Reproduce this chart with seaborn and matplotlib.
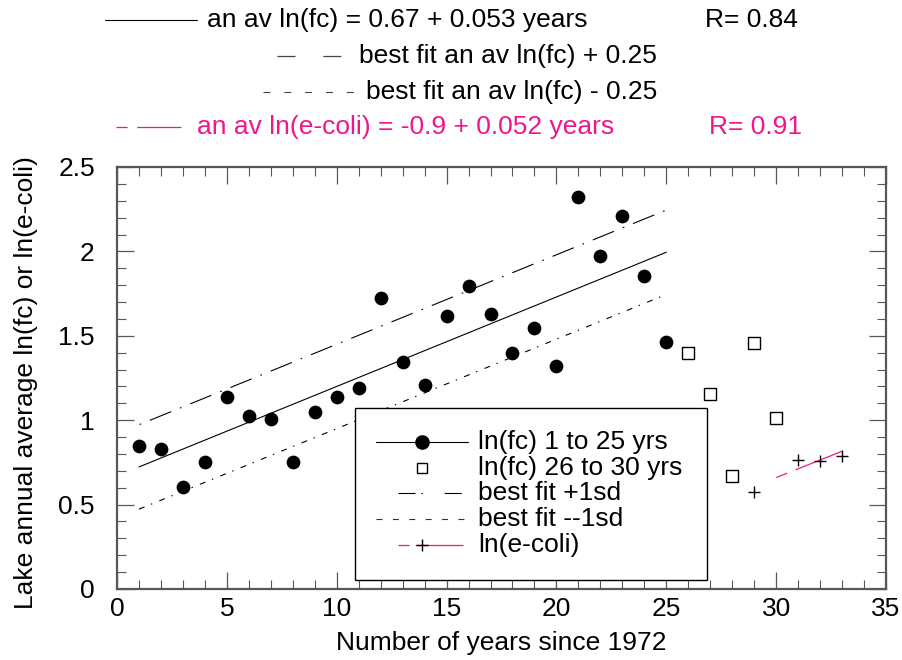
import matplotlib
matplotlib.use("Agg")
import matplotlib.pyplot as plt
import seaborn as sns
import pandas as pd
from matplotlib.lines import Line2D
from matplotlib.patches import Rectangle
from matplotlib.ticker import MultipleLocator

# ---------------- data ----------------
years_a = list(range(1, 26))
lnfc_a = [0.85, 0.83, 0.605, 0.75, 1.14, 1.027, 1.007, 0.75, 1.047, 1.137,
          1.19, 1.726, 1.347, 1.207, 1.616, 1.797, 1.627, 1.40, 1.548, 1.32,
          2.324, 1.973, 2.211, 1.856, 1.465]
years_b = [26, 27, 28, 29, 30]
lnfc_b = [1.40, 1.155, 0.668, 1.46, 1.015]
years_ec = [29, 31, 32, 33]
ln_ecoli = [0.575, 0.764, 0.758, 0.788]

fit_x = [1, 25]
fit_y = [0.723, 1.995]
fit_hi = [0.973, 2.245]
fit_lo = [0.473, 1.745]
ec_fit_x = [30, 33]
ec_fit_y = [0.66, 0.816]

top_labels = ["an av ln(fc) = 0.67 + 0.053 years",
              "best fit an av ln(fc) + 0.25",
              "best fit an av ln(fc) - 0.25",
              "an av ln(e-coli) = -0.9 + 0.052 years"]
r_labels = ["R= 0.84", "R= 0.91"]
legend_labels = ["ln(fc) 1 to 25 yrs", "ln(fc) 26 to 30 yrs",
                 "best fit +1sd", "best fit --1sd", "ln(e-coli)"]
xlabel = "Number of years since 1972"
ylabel = "Lake annual average ln(fc) or ln(e-coli)"

# ---------------- style ----------------
sns.set_theme(style="ticks")
plt.rcParams["font.family"] = ["Liberation Sans", "DejaVu Sans"]
plt.rcParams["lines.scale_dashes"] = False
FS = 19
PINK = "#f0168c"
SPINE = "#585858"

LS_HI = (22.8, (16.5, 6.8, 1.2, 6.8))
LS_LO = (0, (4.3, 5.0, 1.0, 5.5))
LS_EC = (0, (8.6, 6.5, 200, 1))

W, H = 903, 660
fig = plt.figure(figsize=(W / 100, H / 100), dpi=100)
fig.patch.set_facecolor("white")
ax = fig.add_axes([117 / W, 1 - 589 / H, 769 / W, 422 / H])
ax.set_facecolor("white")

# fitted lines
sns.lineplot(x=fit_x, y=fit_y, ax=ax, color="black", linewidth=0.8, zorder=2)
sns.lineplot(x=fit_x, y=fit_hi, ax=ax, color="black", linewidth=0.8, zorder=2)
ax.lines[-1].set_linestyle(LS_HI)
sns.lineplot(x=fit_x, y=fit_lo, ax=ax, color="black", linewidth=0.8, zorder=2)
ax.lines[-1].set_linestyle(LS_LO)
sns.lineplot(x=ec_fit_x, y=ec_fit_y, ax=ax, color=PINK, linewidth=0.9, zorder=2)
ax.lines[-1].set_linestyle(LS_EC)

# points
sns.scatterplot(x=years_a, y=lnfc_a, ax=ax, marker="o", color="black",
                s=98, edgecolor="black", linewidth=0, zorder=3)
sns.scatterplot(x=years_b, y=lnfc_b, ax=ax, marker="s", facecolor="white",
                edgecolor="black", s=68, linewidth=1.0, zorder=3)
sns.scatterplot(x=years_ec, y=ln_ecoli, ax=ax, marker="+", color="black",
                s=75, linewidth=1.0, zorder=3)

# axes
ax.set_xlim(0, 35)
ax.set_ylim(0, 2.5)
ax.xaxis.set_major_locator(MultipleLocator(5))
ax.xaxis.set_minor_locator(MultipleLocator(1))
ax.yaxis.set_major_locator(MultipleLocator(0.5))
ax.yaxis.set_minor_locator(MultipleLocator(0.1))
ax.set_xticks([0, 5, 10, 15, 20, 25, 30, 35])
ax.set_xticklabels(["0", "5", "10", "15", "20", "25", "30", "35"])
ax.set_yticks([0, 0.5, 1, 1.5, 2, 2.5])
ax.set_yticklabels(["0", "0.5", "1", "1.5", "2", "2.5"])
ax.tick_params(which="both", direction="in", top=True, right=True,
               color=SPINE, labelsize=FS, labelcolor="black")
ax.tick_params(which="major", length=12, width=0.9)
ax.tick_params(which="minor", length=6.5, width=0.8)
ax.tick_params(axis="x", which="major", pad=6)
ax.tick_params(axis="y", which="major", pad=16)
for sp in ax.spines.values():
    sp.set_visible(True)
    sp.set_color(SPINE)
    sp.set_linewidth(1.6)

ax.set_xlabel(xlabel, fontsize=FS, color="black")
ax.set_ylabel(ylabel, fontsize=FS, color="black")
ax.xaxis.set_label_coords(0.5, -0.100)
ax.yaxis.set_label_coords((38 - 117) / 769, 0.49)

# ---------------- in-plot legend (drawn in axes fractions) ----------------
def axx(px):
    return (px - 117) / 769


def axy(py):
    return (589 - py) / 422


T = ax.transAxes
ax.add_patch(Rectangle((axx(355), axy(580)), axx(707) - axx(355), axy(408) - axy(580),
                       transform=T, facecolor="white", edgecolor="black",
                       linewidth=1.0, zorder=5))
rows = [442, 468, 493, 519, 545]
hx0, hx1, hm, tx = 376, 468, 422, 478
# row 1
ax.add_line(Line2D([axx(hx0), axx(hx1)], [axy(rows[0])] * 2, transform=T,
                   color="black", linewidth=0.8, zorder=6))
ax.add_line(Line2D([axx(hm)], [axy(rows[0])], transform=T, marker="o",
                   markersize=9.5, color="black", linestyle="none", zorder=7))
# row 2
ax.add_line(Line2D([axx(hm)], [axy(rows[1])], transform=T, marker="s",
                   markersize=7.5, markerfacecolor="white", markeredgecolor="black",
                   markeredgewidth=1.0, linestyle="none", zorder=7))
# row 3
ax.add_line(Line2D([axx(398), axx(463)], [axy(rows[2])] * 2, transform=T,
                   color="black", linewidth=0.8, linestyle=(0, (12.2, 4.3, 1.0, 15.8)),
                   zorder=6))
# row 4
ax.add_line(Line2D([axx(hx0), axx(hx1)], [axy(rows[3])] * 2, transform=T,
                   color="#333333", linewidth=0.8, linestyle=(0, (4.3, 7.5)), zorder=6))
# row 5
ax.add_line(Line2D([axx(398), axx(463)], [axy(rows[4])] * 2, transform=T,
                   color=PINK, linewidth=0.9, linestyle=(0, (8.0, 4.5, 100, 1)), zorder=6))
ax.add_line(Line2D([axx(hm)], [axy(rows[4])], transform=T, marker="+",
                   markersize=8, markeredgewidth=1.0, color="black",
                   linestyle="none", zorder=7))
for lab, ry in zip(legend_labels, rows):
    ax.text(axx(tx), axy(ry), lab, transform=T, fontsize=FS, ha="left",
            va="center", color="black", zorder=8)

# ---------------- top legend (figure fractions) ----------------
def fx(px):
    return px / W


def fy(py):
    return 1 - py / H


F = fig.transFigure
top_rows = [20, 56, 92, 127]
fig.add_artist(Line2D([fx(105), fx(197)], [fy(top_rows[0])] * 2, transform=F,
                      color="black", linewidth=0.8))
fig.add_artist(Line2D([fx(277), fx(341)], [fy(top_rows[1])] * 2, transform=F,
                      color="#444444", linewidth=0.9, linestyle=(0, (13, 20))))
fig.add_artist(Line2D([fx(263), fx(354)], [fy(top_rows[2])] * 2, transform=F,
                      color="#444444", linewidth=0.8, linestyle=(0, (5, 10))))
fig.add_artist(Line2D([fx(116), fx(181)], [fy(top_rows[3])] * 2, transform=F,
                      color=PINK, linewidth=0.9, linestyle=(0, (8, 7, 100, 1))))
fig.text(fx(207), fy(top_rows[0]), top_labels[0], fontsize=FS, ha="left", va="center",
         color="black")
fig.text(fx(359), fy(top_rows[1]), top_labels[1], fontsize=FS, ha="left", va="center",
         color="black")
fig.text(fx(366), fy(top_rows[2]), top_labels[2], fontsize=FS, ha="left", va="center",
         color="black")
fig.text(fx(197), fy(top_rows[3]), top_labels[3], fontsize=FS, ha="left", va="center",
         color=PINK)
fig.text(fx(705), fy(top_rows[0]), r_labels[0], fontsize=FS, ha="left", va="center",
         color="black")
fig.text(fx(709), fy(top_rows[3]), r_labels[1], fontsize=FS, ha="left", va="center",
         color=PINK)

fig.savefig("out.png", dpi=100, facecolor="white")
